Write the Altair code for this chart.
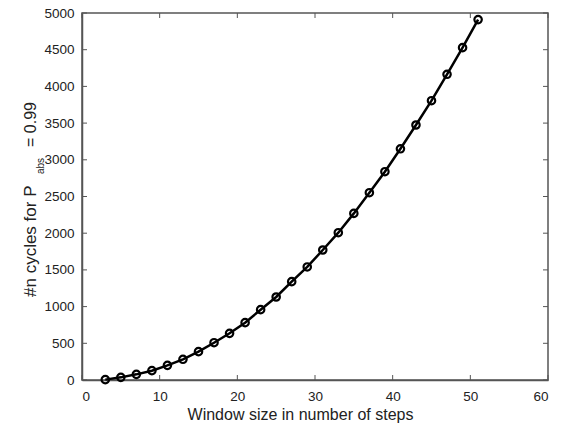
import altair as alt
import pandas as pd

# data
window = [3, 5, 7, 9, 11, 13, 15, 17, 19, 21, 23, 25, 27, 29, 31, 33, 35, 37, 39, 41, 43, 45, 47, 49, 51]
cycles = [5, 36, 77, 127, 200, 282, 386, 508, 636, 781, 958, 1131, 1340, 1540, 1771, 2007, 2270, 2552, 2838, 3150, 3474, 3805, 4165, 4528, 4910]
x_ticks = [0, 10, 20, 30, 40, 50, 60]
y_ticks = [0, 500, 1000, 1500, 2000, 2500, 3000, 3500, 4000, 4500, 5000]
x_title = "Window size in number of steps"
y_title_parts = ["#n cycles for P", "abs", "= 0.99"]

W, H = 466, 367
FONT = "Liberation Sans"
AX = "#555555"
TXT = "#222222"

df = pd.DataFrame({"w": window, "c": cycles})
xt = pd.DataFrame({"w": x_ticks})
yt = pd.DataFrame({"c": y_ticks})

xs = alt.Scale(domain=[0, 60], nice=False, zero=False)
ys = alt.Scale(domain=[0, 5000], nice=False, zero=False)

X = alt.X("w:Q", scale=xs, title=x_title,
          axis=alt.Axis(values=x_ticks, format="d", grid=False, tickSize=0,
                        labelPadding=9, titlePadding=4, titleX=218, titleAlign="center",
                        domainColor=AX, domainWidth=1.5,
                        labelFontSize=13.5, titleFontSize=16, titleFontWeight="normal",
                        labelColor=TXT, titleColor=TXT, labelFont=FONT, titleFont=FONT))
Y = alt.Y("c:Q", scale=ys, title=None,
          axis=alt.Axis(values=y_ticks, format="d", grid=False, tickSize=0, title=None,
                        labelPadding=8, domainColor=AX, domainWidth=1.5, labelFontSize=13.5,
                        labelColor=TXT, labelFont=FONT))

line = alt.Chart(df).mark_line(color="black", strokeWidth=2.5).encode(x=X, y=Y)
points = alt.Chart(df).mark_point(shape="circle", filled=False, color="black", size=55,
                                  strokeWidth=2.2, opacity=1).encode(x=X, y=Y)

tb = alt.Chart(xt).mark_rule(color=AX, strokeWidth=1).encode(x=X, y=alt.value(H), y2=alt.value(H - 5))
tt = alt.Chart(xt).mark_rule(color=AX, strokeWidth=1).encode(x=X, y=alt.value(0), y2=alt.value(5))
tl = alt.Chart(yt).mark_rule(color=AX, strokeWidth=1).encode(y=Y, x=alt.value(0), x2=alt.value(5))
tr = alt.Chart(yt).mark_rule(color=AX, strokeWidth=1).encode(y=Y, x=alt.value(W), x2=alt.value(W - 5))

t_main = alt.Chart(pd.DataFrame({"t": [y_title_parts[0]]})).mark_text(
    angle=270, align="left", baseline="middle", fontSize=17, font=FONT, color=TXT
).encode(text="t:N", x=alt.value(-51), y=alt.value(284))
t_sub = alt.Chart(pd.DataFrame({"t": [y_title_parts[1]]})).mark_text(
    angle=270, align="left", baseline="middle", fontSize=10, font=FONT, color=TXT
).encode(text="t:N", x=alt.value(-41), y=alt.value(161))
t_eq = alt.Chart(pd.DataFrame({"t": [y_title_parts[2]]})).mark_text(
    angle=270, align="left", baseline="middle", fontSize=16, font=FONT, color=TXT
).encode(text="t:N", x=alt.value(-51), y=alt.value(134))

chart = alt.layer(line, points, tb, tt, tl, tr, t_main, t_sub, t_eq).properties(
    width=W, height=H,
    autosize=alt.AutoSizeParams(type="none"),
    padding={"left": 82, "top": 13, "right": 20, "bottom": 45},
    background="white",
).configure_view(stroke=AX, strokeWidth=1.5)

chart.save("out.html", embed_options={"renderer": "svg", "actions": False})
